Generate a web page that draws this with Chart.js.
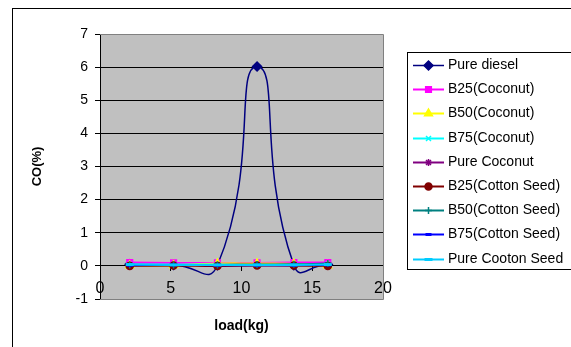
<!DOCTYPE html>
<html lang="en">
<head>
    <meta charset="UTF-8">
    <title>CO vs load</title>
    <style>
        body { margin: 0; background: #fff; }
        canvas { display: block; }
    </style>
    <script src="https://cdn.jsdelivr.net/npm/chart.js"></script>
</head>
<body>
    <canvas id="coChart" width="571" height="347"></canvas>

    <script>
        // load (kg) at each test point
        const loads = [2.1, 5.2, 8.3, 11.1, 13.7, 16.1];

        // CO (%) per fuel blend
        const pureDiesel    = [0.05, 0.03, 0.02, 6.02, 0.02, 0.04];
        const b25Coconut    = [0.10, 0.09, 0.09, 0.09, 0.10, 0.10];
        const b50Coconut    = [0.01, 0.02, 0.07, 0.07, 0.06, 0.01];
        const b75Coconut    = [0.04, 0.04, 0.04, 0.03, 0.04, 0.05];
        const pureCoconut   = [0.03, 0.02, 0.03, 0.03, 0.02, 0.03];
        const b25Cotton     = [0.00, 0.01, 0.00, 0.01, 0.01, 0.00];
        const b50Cotton     = [0.03, 0.03, 0.03, 0.04, 0.05, 0.07];
        const b75Cotton     = [0.02, 0.03, 0.02, 0.02, 0.02, 0.03];
        const pureCotton    = [0.04, 0.03, 0.03, 0.03, 0.03, 0.04];

        const seriesNames = [
            "Pure diesel", "B25(Coconut)", "B50(Coconut)", "B75(Coconut)", "Pure Coconut",
            "B25(Cotton Seed)", "B50(Cotton Seed)", "B75(Cotton Seed)", "Pure Cooton Seed"
        ];
        const seriesValues = [pureDiesel, b25Coconut, b50Coconut, b75Coconut, pureCoconut,
            b25Cotton, b50Cotton, b75Cotton, pureCotton];

        const yTicks = { min: -1, max: 7, step: 1 };
        const xTicks = { min: 0, max: 20, step: 5 };

        const colors  = ["#000080", "#FF00FF", "#FFFF00", "#00FFFF", "#800080", "#800000", "#008080", "#0000FF", "#00CCFF"];
        const markers = ["rectRot", "rect", "triangle", "crossRot", "star", "circle", "cross", "line", "line"];
        const radii   = [4.5, 4, 4.5, 3.5, 3.5, 3.5, 3.5, 3, 4];

        const FONT = "Arial, 'Liberation Sans', sans-serif";

        // later series are painted over earlier ones
        const datasets = seriesNames.map((name, i) => ({
            label: name,
            data: seriesValues[i].map((v, j) => ({ x: loads[j], y: v })),
            order: -i,
            borderColor: colors[i],
            backgroundColor: colors[i],
            pointBorderColor: colors[i],
            pointBackgroundColor: colors[i],
            pointStyle: markers[i],
            pointRadius: radii[i],
            pointBorderWidth: markers[i] === "line" ? 3 : 1.5,
            borderWidth: i === 0 ? 1.5 : 2,
            tension: 0.6,
            fill: false
        }));

        // gray plot area with a darker frame, plus the outer chart border
        const plotBackground = {
            id: "plotBackground",
            beforeDraw(chart) {
                const { ctx, chartArea: a } = chart;
                ctx.save();
                ctx.fillStyle = "#fff";
                ctx.fillRect(0, 0, chart.width, chart.height);
                ctx.strokeStyle = "#000";
                ctx.lineWidth = 1;
                ctx.strokeRect(12.5, 8.5, 700, 500);
                ctx.fillStyle = "#C0C0C0";
                ctx.fillRect(a.left, a.top, a.right - a.left, a.bottom - a.top);
                ctx.restore();
            },
            beforeDatasetsDraw(chart) {
                const { ctx, chartArea: a } = chart;
                ctx.save();
                ctx.strokeStyle = "#808080";
                ctx.lineWidth = 1;
                ctx.beginPath();
                ctx.moveTo(a.left, a.top + 0.5);
                ctx.lineTo(a.right + 0.5, a.top + 0.5);
                ctx.lineTo(a.right + 0.5, a.bottom + 0.5);
                ctx.lineTo(a.left, a.bottom + 0.5);
                ctx.stroke();
                ctx.restore();
            }
        };

        // legend box: line sample with marker, then the series name
        const boxLegend = {
            id: "boxLegend",
            afterDraw(chart) {
                const { ctx } = chart;
                const left = 407, top = 52, bottom = 269;
                const rowH = 24.2, firstY = 65;
                ctx.save();
                ctx.fillStyle = "#fff";
                ctx.fillRect(left, top, 300, bottom - top);
                ctx.strokeStyle = "#000";
                ctx.lineWidth = 1;
                ctx.strokeRect(left + 0.5, top + 0.5, 300, bottom - top);
                chart.data.datasets.forEach((ds, i) => {
                    const y = Math.round(firstY + i * rowH) + 0.5;
                    ctx.strokeStyle = ds.borderColor;
                    ctx.lineWidth = ds.borderWidth;
                    ctx.beginPath();
                    ctx.moveTo(413, y);
                    ctx.lineTo(444, y);
                    ctx.stroke();
                    ctx.fillStyle = ds.pointBackgroundColor;
                    ctx.strokeStyle = ds.pointBorderColor;
                    ctx.lineWidth = ds.pointBorderWidth;
                    Chart.helpers.drawPoint(ctx, {
                        pointStyle: ds.pointStyle,
                        radius: ds.pointRadius,
                        rotation: 0,
                        borderWidth: ds.pointBorderWidth
                    }, 428.5, y);
                    ctx.fillStyle = "#000";
                    ctx.font = "14px " + FONT;
                    ctx.textBaseline = "middle";
                    ctx.textAlign = "left";
                    ctx.fillText(ds.label, 448, y);
                });
                ctx.restore();
            }
        };

        new Chart(document.getElementById("coChart"), {
            type: "line",
            data: { datasets },
            plugins: [plotBackground, boxLegend],
            options: {
                responsive: false,
                animation: false,
                layout: { padding: { top: 34, right: 188, bottom: 48, left: 0 } },
                plugins: { legend: { display: false }, tooltip: { enabled: false } },
                scales: {
                    // labels sit on the plot floor, just above the -1 line
                    x: {
                        type: "linear",
                        position: { y: yTicks.min },
                        min: xTicks.min, max: xTicks.max,
                        afterFit(s) { s.height = 49; },
                        grid: { display: false, drawTicks: false },
                        border: { display: false },
                        ticks: {
                            stepSize: xTicks.step,
                            padding: -20,
                            color: "#000",
                            font: { family: FONT, size: 16 },
                            maxRotation: 0
                        },
                        title: {
                            display: true,
                            text: "load(kg)",
                            color: "#000",
                            font: { family: FONT, size: 14, weight: "bold" },
                            padding: { top: 0, bottom: 13 }
                        }
                    },
                    // tick marks hanging below the zero line
                    x0: {
                        type: "linear",
                        position: { y: 0 },
                        min: xTicks.min, max: xTicks.max,
                        afterFit(s) { s.height = 0; },
                        ticks: { display: false, stepSize: xTicks.step },
                        grid: { drawOnChartArea: false, drawTicks: true, tickLength: 5, tickColor: "#000" },
                        border: { display: false }
                    },
                    y: {
                        position: "left",
                        min: yTicks.min, max: yTicks.max,
                        afterFit(s) { s.width = 100; },
                        grid: {
                            color: c => (c.tick && (c.tick.value === yTicks.min || c.tick.value === yTicks.max)) ? "rgba(0,0,0,0)" : "#000",
                            tickColor: "#000",
                            tickLength: 5,
                            lineWidth: 1
                        },
                        border: { display: true, color: "#000", width: 1 },
                        ticks: {
                            stepSize: yTicks.step,
                            padding: 7,
                            color: "#000",
                            font: { family: FONT, size: 14 }
                        },
                        title: {
                            display: true,
                            text: "CO(%)",
                            color: "#000",
                            font: { family: FONT, size: 13, weight: "bold" },
                            padding: { top: 30, bottom: 0 }
                        }
                    }
                }
            }
        });
    </script>
</body>
</html>
